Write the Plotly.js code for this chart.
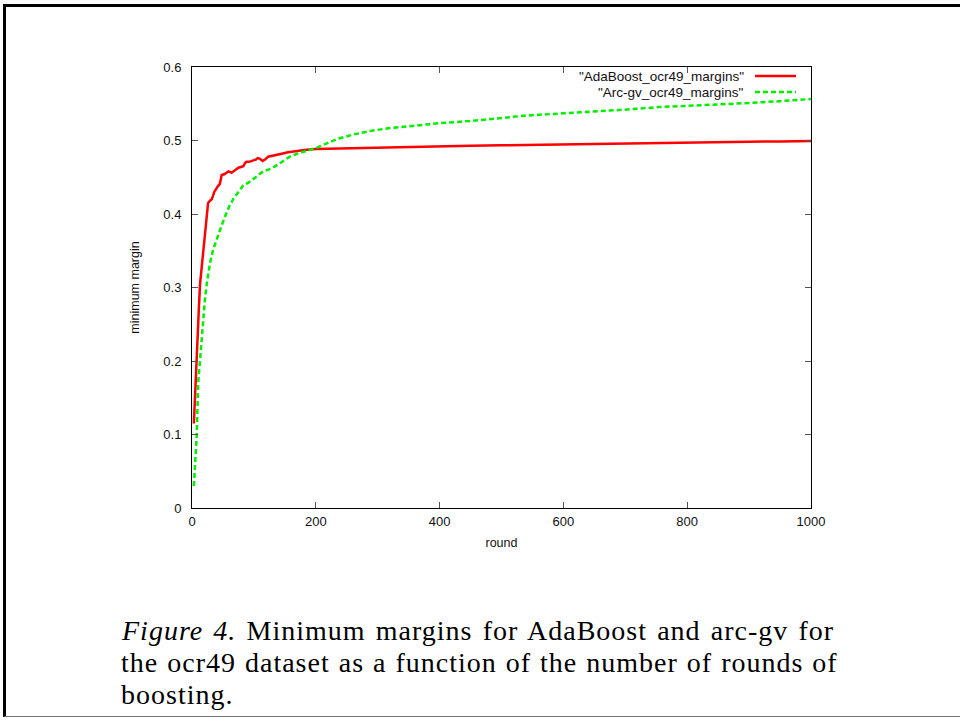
<!DOCTYPE html>
<html>
<head>
<meta charset="utf-8">
<script src="https://cdn.plot.ly/plotly-3.0.1.min.js"></script>
<style>
  html, body { margin: 0; padding: 0; background: #fff; }
  #wrap { position: relative; width: 960px; height: 721px; }
  #chart { position: absolute; left: 0; top: 0; width: 960px; height: 721px; }
  #frame { position: absolute; left: 3px; top: 4px; width: 957px; height: 713px;
           border-left: 3px solid #000; border-top: 3px solid #000; border-bottom: 1px solid #777;
           box-sizing: border-box; pointer-events: none; }
</style>
</head>
<body>
<div id="wrap">
  <div id="chart"></div>
  <div id="frame"></div>
</div>
<script>
// ---- data ----
const seriesNames = ['"AdaBoost_ocr49_margins"', '"Arc-gv_ocr49_margins"'];

const adaRounds = [3,5,8,11,13,16,19,22,24,26,29,32,36,39,42,45,48,52,56,59,62,64,67,71,75,79,83,86,88,92,96,99,103,106,110,114,118,123,130,137,145,155,170,185,200,225,250,300,350,400,450,500,550,600,650,700,750,800,850,900,950,1000];
const adaMargin = [0.115,0.16,0.215,0.27,0.305,0.33,0.352,0.375,0.392,0.415,0.418,0.42,0.43,0.435,0.438,0.441,0.453,0.454,0.457,0.458,0.457,0.456,0.458,0.461,0.463,0.464,0.465,0.47,0.471,0.471,0.472,0.4725,0.474,0.476,0.475,0.472,0.474,0.478,0.479,0.481,0.482,0.484,0.486,0.4875,0.4885,0.489,0.489,0.4902,0.4912,0.4922,0.4928,0.4935,0.4942,0.4948,0.4955,0.496,0.4966,0.4972,0.4978,0.4983,0.4988,0.4993];

const arcRounds = [3,5,7.5,10,14,18,21,24,29,34,40,46,53,60,67,75,83,92,102,115,129,140,150,158,170,180,191,200,215,234,260,288,320,368,400,449,500,541,600,648,700,756,800,850,900,950,1000];
const arcMargin = [0.03,0.065,0.097,0.17,0.215,0.26,0.285,0.306,0.333,0.351,0.367,0.38,0.396,0.41,0.421,0.43,0.439,0.443,0.449,0.458,0.462,0.468,0.4745,0.478,0.482,0.485,0.4875,0.4895,0.495,0.502,0.508,0.513,0.517,0.521,0.5235,0.5265,0.5305,0.534,0.537,0.539,0.542,0.5455,0.547,0.549,0.551,0.5535,0.5565];

const xTicks = [0,200,400,600,800,1000];
const yTicks = [0,0.1,0.2,0.3,0.4,0.5,0.6];

const captionLines = [
  '<i>Figure 4.</i> Minimum margins for AdaBoost and arc-gv for',
  'the ocr49 dataset as a function of the number of rounds of',
  'boosting.'
];
const captionWordSpacing = [2.2, 1.0, 0];

const RED = '#ff0000';
const GREEN = '#00ee00';

const traces = [
  { x: adaRounds, y: adaMargin, type: 'scatter', mode: 'lines', name: seriesNames[0],
    line: { color: RED, width: 2.5 }, showlegend: false },
  { x: arcRounds, y: arcMargin, type: 'scatter', mode: 'lines', name: seriesNames[1],
    line: { color: GREEN, width: 2.5, dash: '5px,3px' }, showlegend: false }
];

const tickFont = { family: 'Liberation Sans, Arial, sans-serif', size: 13, color: '#111' };
const titleFont = { family: 'Liberation Sans, Arial, sans-serif', size: 12.5, color: '#111' };
const legFont = { family: 'Liberation Sans, Arial, sans-serif', size: 13.5, color: '#111' };

// layout plot area: x 192..811, y 67..508
const L = 192, R = 811, T = 67, B = 508;
const pw = R - L, ph = B - T;
const px2paper = p => (p - L) / pw;
const py2paper = p => (B - p) / ph;

const annotations = [];
// legend text (gnuplot style: text then sample line)
annotations.push({ xref: 'paper', yref: 'paper', x: px2paper(746), y: py2paper(76), xanchor: 'right', yanchor: 'middle',
  text: seriesNames[0], showarrow: false, font: legFont });
annotations.push({ xref: 'paper', yref: 'paper', x: px2paper(746), y: py2paper(92), xanchor: 'right', yanchor: 'middle',
  text: seriesNames[1], showarrow: false, font: legFont });
// caption
const capFont = { family: 'Liberation Serif, Times New Roman, serif', size: 28, color: '#000' };
const capY = [630, 662, 694];
captionLines.forEach((t, i) => {
  annotations.push({ xref: 'paper', yref: 'paper', x: px2paper(119), y: py2paper(capY[i]), xanchor: 'left', yanchor: 'middle',
    text: '<span style="letter-spacing:1px;word-spacing:' + captionWordSpacing[i] + 'px">' + t + '</span>',
    showarrow: false, font: capFont });
});

const shapes = [
  { type: 'line', xref: 'paper', yref: 'paper', x0: px2paper(755), x1: px2paper(796), y0: py2paper(76), y1: py2paper(76),
    line: { color: RED, width: 2.5 } },
  { type: 'line', xref: 'paper', yref: 'paper', x0: px2paper(755), x1: px2paper(796), y0: py2paper(92), y1: py2paper(92),
    line: { color: GREEN, width: 2.5, dash: '5px,3px' } }
];

const layout = {
  width: 960, height: 721,
  margin: { l: L, r: 960 - R, t: T, b: 721 - B, pad: 0 },
  paper_bgcolor: '#fff', plot_bgcolor: '#fff',
  showlegend: false,
  xaxis: {
    range: [0, 1000], tickvals: xTicks, ticktext: xTicks.map(String),
    showgrid: false, zeroline: false, showline: true, linecolor: '#000', linewidth: 1, mirror: 'allticks',
    ticks: 'inside', ticklen: 6, tickcolor: '#555', tickwidth: 1,
    tickfont: tickFont, ticklabelstandoff: 1,
    title: { text: 'round', font: titleFont, standoff: 10 }
  },
  yaxis: {
    range: [0, 0.6], tickvals: yTicks, ticktext: yTicks.map(v => v === 0 ? '0' : v.toFixed(1)),
    showgrid: false, zeroline: false, showline: true, linecolor: '#000', linewidth: 1, mirror: 'allticks',
    ticks: 'inside', ticklen: 6, tickcolor: '#555', tickwidth: 1,
    tickfont: tickFont, ticklabelstandoff: 7,
    title: { text: 'minimum margin', font: titleFont, standoff: 20 }
  },
  annotations: annotations,
  shapes: shapes
};

Plotly.newPlot('chart', traces, layout, { displayModeBar: false, staticPlot: true });
</script>
</body>
</html>
